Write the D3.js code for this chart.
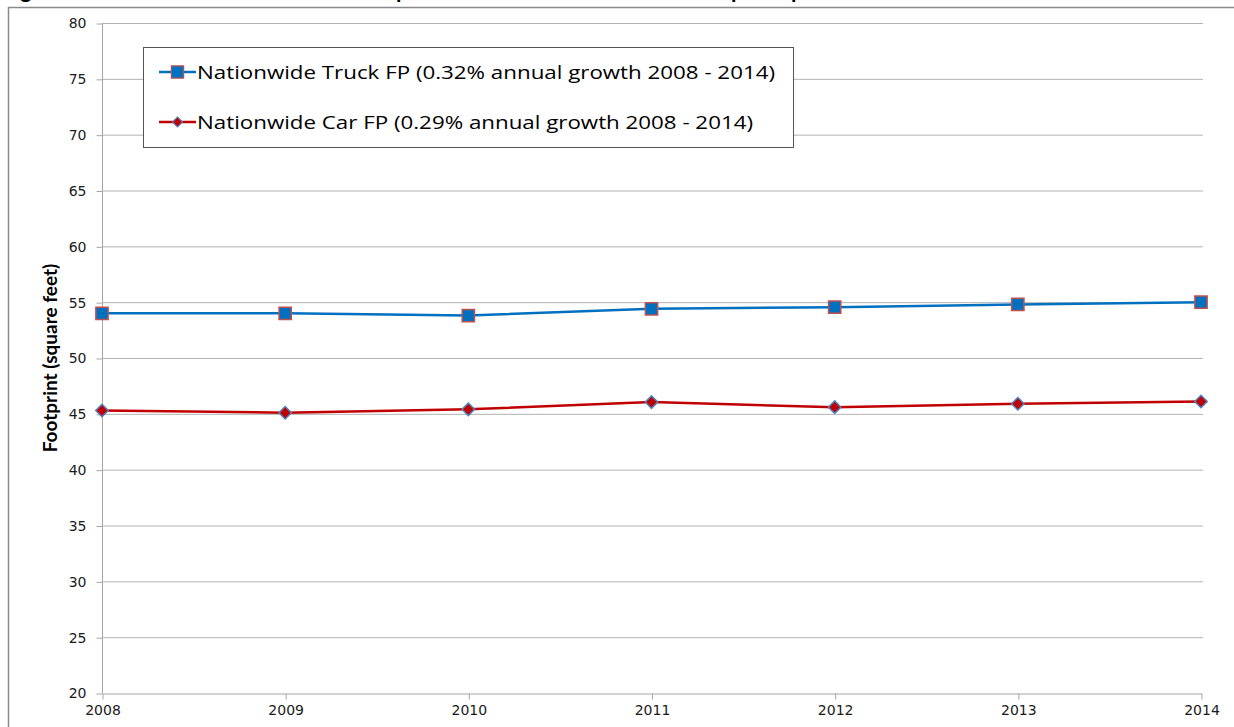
<!DOCTYPE html>
<html>
<head>
<meta charset="utf-8">
<script src="https://cdn.jsdelivr.net/npm/d3@7"></script>
<style>
  body { margin: 0; background: #fff; }
  svg { display: block; }
</style>
</head>
<body>
<div id="container"></div>
<script>
/* DATA */
const years = [2008, 2009, 2010, 2011, 2012, 2013, 2014];
const truckFP = [54.0, 54.0, 53.8, 54.4, 54.55, 54.8, 55.0];
const carFP = [45.3, 45.1, 45.4, 46.05, 45.6, 45.9, 46.1];
const yTicks = [20, 25, 30, 35, 40, 45, 50, 55, 60, 65, 70, 75, 80];
const seriesNames = [
  "Nationwide Truck FP (0.32% annual growth 2008 - 2014)",
  "Nationwide Car FP (0.29% annual growth 2008 - 2014)"
];

/* CONSTANTS */
const width = 1234, height = 727;
const margin = { top: 23, bottom: 34, left: 102, right: 31 };

const svg = d3.select("#container")
  .append("svg")
  .attr("width", width)
  .attr("height", height);

// title sits above the frame, mostly cropped away like the source image
svg.append("text")
  .attr("x", 2)
  .attr("y", -2)
  .attr("font-family", "Lato, sans-serif")
  .attr("font-weight", "bold")
  .attr("font-size", 22)
  .attr("fill", "#000")
  .text("Figure 4: Nationwide Truck and Car Footprint from MY 2008 - 2014 in Sample Report");

// chart frame
svg.append("rect")
  .attr("x", 8.5)
  .attr("y", 7.5)
  .attr("width", width + 10)
  .attr("height", height + 10)
  .attr("fill", "none")
  .attr("stroke", "#8a8a8a")
  .attr("stroke-width", 1.5);

// SCALES
const xScale = d3.scaleLinear()
  .domain([2008, 2014])
  .range([margin.left, width - margin.right - 2]);

const yScale = d3.scaleLinear()
  .domain([20, 80])
  .range([height - margin.bottom, margin.top]);

// GRIDLINES
svg.append("g")
  .selectAll("line")
  .data(yTicks.filter(d => d > 20))
  .join("line")
  .attr("x1", margin.left)
  .attr("x2", width - margin.right)
  .attr("y1", d => yScale(d) + 0.5)
  .attr("y2", d => yScale(d) + 0.5)
  .attr("stroke", "#b3b3b3")
  .attr("stroke-width", 1);

// AXES
const yAxis = d3.axisLeft(yScale)
  .tickValues(yTicks)
  .tickSize(6)
  .tickSizeOuter(0)
  .tickPadding(10);

const yAxisGroup = svg.append("g")
  .attr("transform", `translate(${margin.left + 0.5}, 0.5)`)
  .call(yAxis);

const xAxis = d3.axisBottom(xScale)
  .tickValues(years)
  .tickFormat(d3.format("d"))
  .tickSize(6)
  .tickSizeOuter(0)
  .tickPadding(6);

const xAxisGroup = svg.append("g")
  .attr("transform", `translate(0.5, ${height - margin.bottom + 0.5})`)
  .call(xAxis);

[yAxisGroup, xAxisGroup].forEach(g => {
  g.select(".domain").attr("stroke", "#a6a6a6");
  g.selectAll(".tick line").attr("stroke", "#a6a6a6");
  g.selectAll(".tick text")
    .attr("font-family", "DejaVu Sans, Verdana, sans-serif")
    .attr("font-size", 14)
    .attr("fill", "#1a1a1a");
});
yAxisGroup.select(".domain").attr("d", `M0,${yScale(80)}V${yScale(20)}`);

// Y TITLE
svg.append("text")
  .attr("x", -yScale(50))
  .attr("y", 57)
  .attr("transform", "rotate(-90)")
  .attr("text-anchor", "middle")
  .attr("font-family", "Lato, sans-serif")
  .attr("font-weight", "bold")
  .attr("font-size", 19)
  .attr("fill", "#000")
  .text("Footprint (square feet)");

// LINES
const lineGen = d3.line()
  .x((d, i) => xScale(years[i]))
  .y(d => yScale(d));

svg.append("path")
  .datum(truckFP)
  .attr("d", lineGen)
  .attr("fill", "none")
  .attr("stroke", "#0070c0")
  .attr("stroke-width", 2.5);

svg.append("path")
  .datum(carFP)
  .attr("d", lineGen)
  .attr("fill", "none")
  .attr("stroke", "#c00000")
  .attr("stroke-width", 2.5);

// MARKERS
const squareSym = d3.symbol().type(d3.symbolSquare).size(150);
const diamondSym = d3.symbol().type(d3.symbolSquare).size(78);

svg.append("g")
  .selectAll("path")
  .data(truckFP)
  .join("path")
  .attr("transform", (d, i) => `translate(${xScale(years[i])}, ${yScale(d)})`)
  .attr("d", squareSym)
  .attr("fill", "#0070c0")
  .attr("stroke", "#c0504d")
  .attr("stroke-width", 1.5);

svg.append("g")
  .selectAll("path")
  .data(carFP)
  .join("path")
  .attr("transform", (d, i) => `translate(${xScale(years[i])}, ${yScale(d)}) rotate(45)`)
  .attr("d", diamondSym)
  .attr("fill", "#c00000")
  .attr("stroke", "#4f81bd")
  .attr("stroke-width", 1.5);

// LEGEND
const legend = svg.append("g");

legend.append("rect")
  .attr("x", 143.5)
  .attr("y", 47.5)
  .attr("width", 650)
  .attr("height", 100)
  .attr("fill", "#fff")
  .attr("stroke", "#555")
  .attr("stroke-width", 1);

const legendItems = [
  { name: seriesNames[0], color: "#0070c0", sym: squareSym, rot: 0, fill: "#0070c0", stroke: "#c0504d", y: 72, len: 578 },
  { name: seriesNames[1], color: "#c00000", sym: d3.symbol().type(d3.symbolSquare).size(50), rot: 45, fill: "#c00000", stroke: "#4f81bd", y: 122, len: 556 }
];

legendItems.forEach(item => {
  legend.append("line")
    .attr("x1", 159)
    .attr("x2", 196)
    .attr("y1", item.y)
    .attr("y2", item.y)
    .attr("stroke", item.color)
    .attr("stroke-width", 2.5);

  legend.append("path")
    .attr("transform", `translate(177.5, ${item.y}) rotate(${item.rot})`)
    .attr("d", item.sym)
    .attr("fill", item.fill)
    .attr("stroke", item.stroke)
    .attr("stroke-width", 1.2);

  legend.append("text")
    .attr("x", 197)
    .attr("y", item.y + 7)
    .attr("font-family", "Open Sans, sans-serif")
    .attr("font-size", 19)
    .attr("textLength", item.len)
    .attr("lengthAdjust", "spacingAndGlyphs")
    .attr("fill", "#000")
    .text(item.name);
});
</script>
</body>
</html>
